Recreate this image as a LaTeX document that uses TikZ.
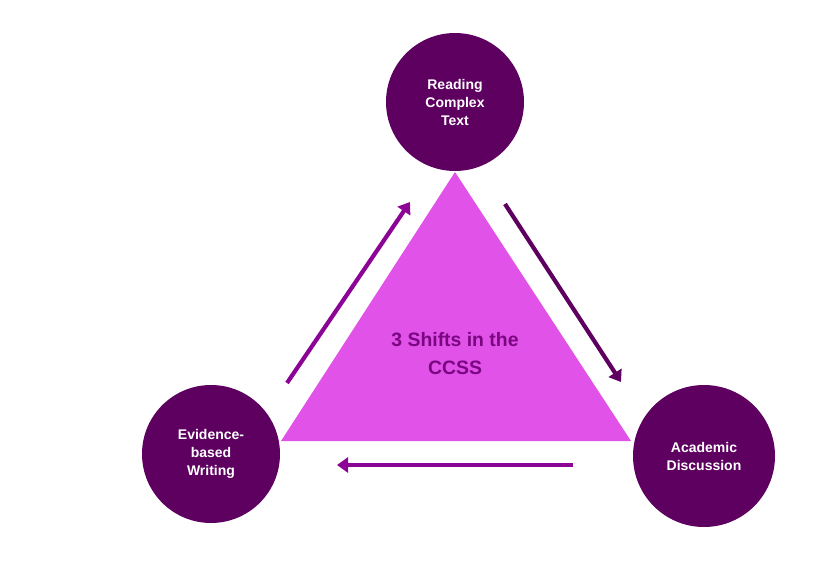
\documentclass[tikz,border=0pt]{standalone}
\usepackage{fontspec}
\setmainfont{Liberation Sans}
\usepackage{tikz}
\usetikzlibrary{arrows.meta,positioning}
\definecolor{shiftdark}{RGB}{94,0,96}
\definecolor{shiftmid}{RGB}{140,4,150}
\definecolor{shiftpink}{RGB}{224,82,232}
\definecolor{shifttext}{RGB}{122,6,130}
\tikzset{
  shiftnode/.style={
    circle,
    fill=shiftdark,
    minimum size=138pt,
    inner sep=0pt,
    text=white,
    align=center,
    font=\bfseries\fontsize{14}{18}\selectfont
  },
  cyclearrow/.style={-{Triangle[length=11pt,width=15pt]}, line width=4.2pt},
  core/.style={align=center, text=shifttext, font=\bfseries\fontsize{19.4}{28}\selectfont}
}

\begin{document}
\begin{tikzpicture}[x=1pt, y=-1pt]
  \useasboundingbox (0,0) rectangle (820,562);

  % the triangle
  \coordinate (apex) at (455,172);
  \coordinate (baseL) at (281,441);
  \coordinate (baseR) at (631,441);
  \fill[shiftpink] (apex) -- (baseR) -- (baseL) -- cycle;
  \node[core] (ccss) at (455,354) {3 Shifts in the\\CCSS};

  % the three shifts
  \node[shiftnode] (reading) at (455,102) {Reading\\Complex\\Text};
  \node[shiftnode] (writing) at (211,454) {Evidence-\\based\\Writing};
  \node[shiftnode, minimum size=142pt] (discussion) at (704,456) {Academic\\Discussion};

  % arrows round the triangle
  \coordinate (upS) at (287,383);
  \coordinate (upE) at (410,202);
  \coordinate (downS) at (505,204);
  \coordinate (downE) at (621,382);
  \coordinate (backS) at (573,465);
  \coordinate (backE) at (337,465);
  \draw[cyclearrow, draw=shiftmid, fill=shiftmid] (upS) -- (upE);
  \draw[cyclearrow, draw=shiftdark, fill=shiftdark] (downS) -- (downE);
  \draw[cyclearrow, draw=shiftmid, fill=shiftmid] (backS) -- (backE);

\end{tikzpicture}
\end{document}
